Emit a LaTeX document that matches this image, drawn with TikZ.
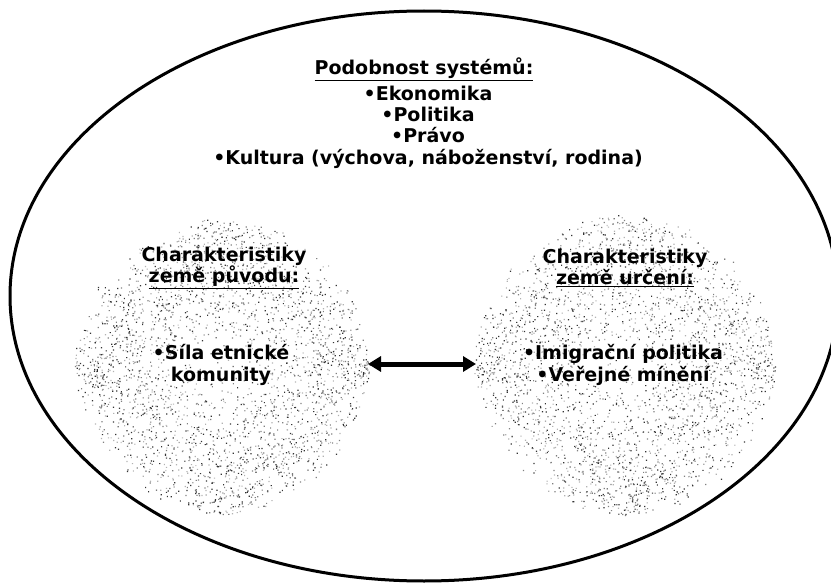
\documentclass[tikz,border=0pt]{standalone}
\usepackage{fontspec}
\setmainfont{DejaVu Sans}
\usetikzlibrary{arrows.meta,shapes.geometric,calc}
\begin{document}
\begin{tikzpicture}[x=1pt,y=-1pt,
  txt/.style={font=\bfseries\fontsize{19}{21.3}\selectfont, align=center, inner sep=0pt},
  region/.style={draw=none, fill=none},
  outer/.style={draw=black, line width=3pt},
  link/.style={line width=5pt, {Triangle[length=13pt,width=15pt]}-{Triangle[length=13pt,width=15pt]}}]
\useasboundingbox (0,0) rectangle (831,586);
% outer boundary
\node[outer, ellipse, minimum width=828pt, minimum height=570pt, inner sep=0pt] (sys) at (424,296) {};
% the two country regions
\node[region, circle, minimum size=296pt] (orig) at (222,366) {};
\node[region, circle, minimum size=302pt] (dest) at (625,365) {};
% stippled texture: one path of tiny squares per grey level
\pgfmathsetseed{42}
\foreach \c/\r in {orig/148, dest/151}{
  \foreach \gr in {30,50,80}{
    \fill[black!\gr] foreach \i in {1,...,1000}{
      ($(\c)+(360*rnd:{\r*sqrt(rnd)})$) rectangle +(1.2,1.2)
    };
  }
}
% texts
\node[txt] (simtitle) at (424,69) {\underline{Podobnost systémů:}};
\node[txt] (simlist) at (428,127) {•Ekonomika\\•Politika\\•Právo\\•Kultura (výchova, náboženství, rodina)};
\node[txt] (origtitle) at (224,268) {Charakteristiky\\\underline{země původu:}};
\node[txt] (origlist) at (221,365) {•Síla etnické\\komunity};
\node[txt] (desttitle) at (625,268) {Charakteristiky\\\underline{země určení:}};
\node[txt] (destlist) at (623,365) {•Imigrační politika\\•Veřejné mínění};
% relation
\coordinate (la) at (368,364);
\coordinate (lb) at (476,364);
\draw[link] (la) -- (lb);
\end{tikzpicture}
\end{document}
